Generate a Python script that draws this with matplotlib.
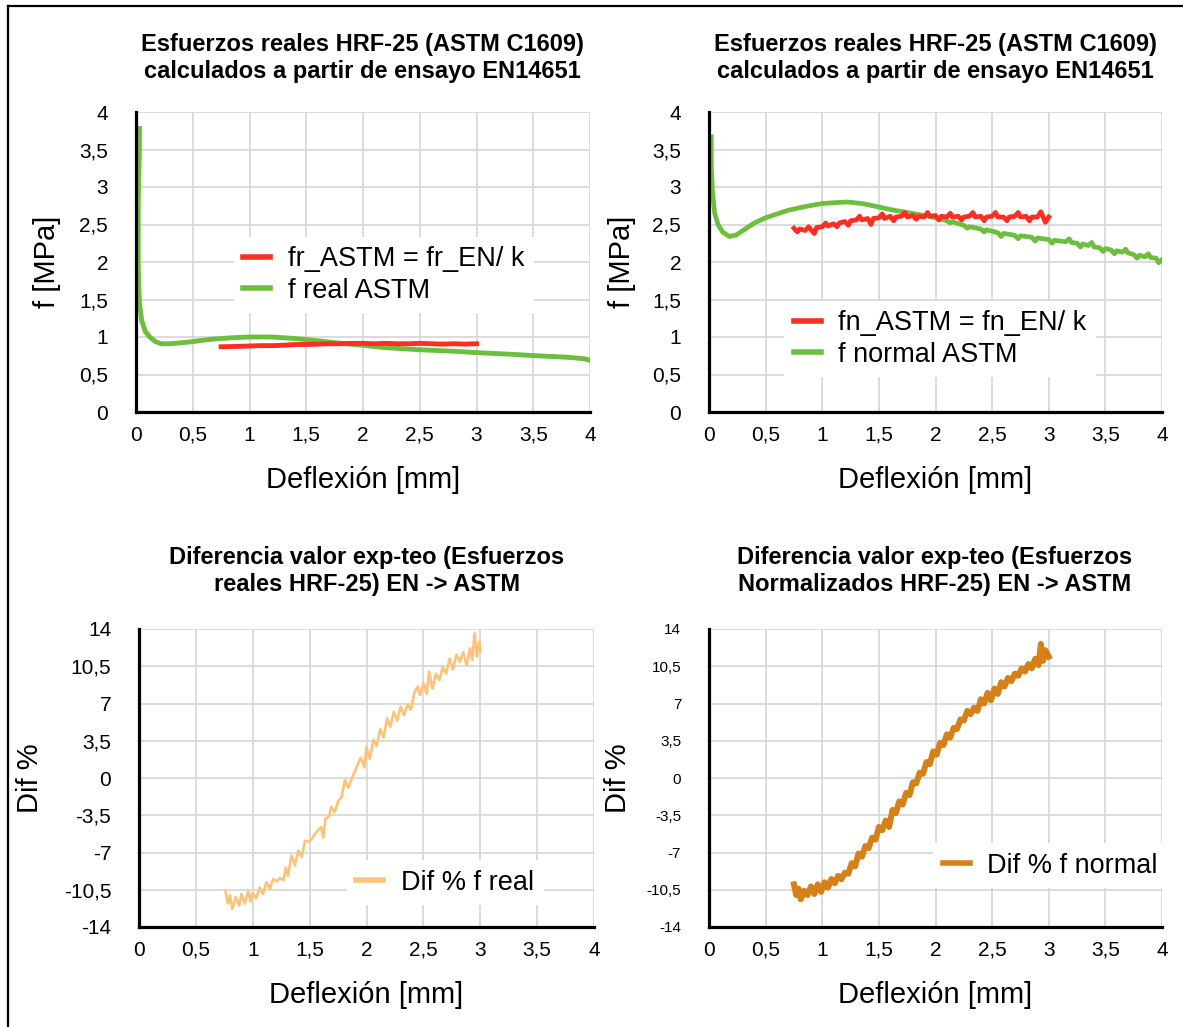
import matplotlib
matplotlib.use('Agg')
import matplotlib.pyplot as plt
from matplotlib.lines import Line2D

plt.rcParams['font.family'] = ['Liberation Sans', 'DejaVu Sans']

# ── Datos ───────────────────────────────────────────────────────────────────
# Panel 1: esfuerzos reales
real_astm_x = [0.03, 0.03, 0.02, 0.02, 0.03, 0.05, 0.08, 0.12, 0.17, 0.22, 0.3, 0.45,
               0.66, 0.85, 1.0, 1.2, 1.4, 1.6, 1.84, 2.0, 2.18, 2.5, 2.8, 3.02, 3.3,
               3.53, 3.8, 3.95, 4.0]
real_astm_y = [3.78, 3.5, 2.82, 1.93, 1.45, 1.22, 1.08, 1.0, 0.94, 0.91, 0.91, 0.93,
               0.97, 0.99, 1.0, 1.0, 0.98, 0.95, 0.91, 0.89, 0.86, 0.83, 0.81, 0.79, 0.77,
               0.75, 0.73, 0.71, 0.69]
fr_astm_x = [0.75, 0.9, 1.0, 1.1, 1.2, 1.3, 1.4, 1.5, 1.6, 1.7, 1.8, 1.9, 2.0, 2.1,
             2.2, 2.3, 2.4, 2.5, 2.6, 2.7, 2.8, 2.9, 3.0]
fr_astm_y = [0.87, 0.875, 0.88, 0.885, 0.885, 0.89, 0.9, 0.9, 0.905, 0.91, 0.91, 0.915,
             0.915, 0.91, 0.915, 0.91, 0.91, 0.915, 0.91, 0.905, 0.91, 0.905, 0.91]

# Panel 2: esfuerzos normalizados
norm_astm_x = [0.02, 0.02, 0.03, 0.05, 0.08, 0.12, 0.18, 0.24, 0.3, 0.4, 0.5, 0.6, 0.7,
               0.85, 1.0, 1.1, 1.22, 1.35, 1.48, 1.6, 1.75, 1.9, 2.0,
               2.05, 2.10, 2.13, 2.15, 2.20, 2.25, 2.28, 2.30, 2.35, 2.40, 2.43, 2.45,
               2.50, 2.55, 2.58, 2.60, 2.65, 2.70, 2.73, 2.75, 2.80, 2.85, 2.88, 2.90,
               2.95, 3.00, 3.03, 3.05, 3.10, 3.15, 3.18, 3.20, 3.25, 3.28, 3.30, 3.35,
               3.38, 3.40, 3.45, 3.48, 3.50, 3.55, 3.58, 3.60, 3.65, 3.68, 3.70, 3.75,
               3.78, 3.80, 3.85, 3.88, 3.90, 3.95, 3.97, 4.00]
norm_astm_y = [3.67, 3.3, 2.95, 2.65, 2.5, 2.4, 2.34, 2.36, 2.42, 2.52, 2.59, 2.64, 2.69,
               2.74, 2.78, 2.79, 2.8, 2.78, 2.74, 2.7, 2.66, 2.62, 2.59,
               2.575, 2.55, 2.52, 2.54, 2.51, 2.49, 2.45, 2.47, 2.455, 2.44, 2.40, 2.43,
               2.41, 2.39, 2.34, 2.38, 2.37, 2.355, 2.31, 2.35, 2.34, 2.33, 2.28, 2.32,
               2.31, 2.30, 2.25, 2.29, 2.28, 2.27, 2.31, 2.26, 2.25, 2.20, 2.24, 2.22,
               2.26, 2.20, 2.19, 2.14, 2.18, 2.16, 2.11, 2.15, 2.13, 2.17, 2.12, 2.10,
               2.05, 2.09, 2.07, 2.11, 2.06, 2.05, 1.99, 2.03]
fn_astm_x = [0.75, 0.78, 0.80, 0.85, 0.88, 0.90, 0.93, 0.95, 1.00, 1.03, 1.05, 1.10,
             1.13, 1.15, 1.20, 1.23, 1.25, 1.30, 1.33, 1.35, 1.40, 1.43, 1.45, 1.50,
             1.53, 1.55, 1.60, 1.63, 1.65, 1.70, 1.73, 1.75, 1.80, 1.83, 1.85, 1.90,
             1.93, 1.95, 2.00, 2.03, 2.05, 2.10, 2.13, 2.15, 2.20, 2.23, 2.25, 2.30,
             2.33, 2.35, 2.40, 2.43, 2.45, 2.50, 2.53, 2.55, 2.60, 2.63, 2.65, 2.70,
             2.73, 2.75, 2.80, 2.83, 2.85, 2.90, 2.93, 2.95, 2.97, 3.00]
fn_astm_y = [2.45, 2.40, 2.44, 2.42, 2.47, 2.43, 2.38, 2.46, 2.47, 2.52, 2.48, 2.51,
             2.47, 2.52, 2.54, 2.49, 2.55, 2.56, 2.61, 2.56, 2.58, 2.50, 2.58, 2.59,
             2.64, 2.58, 2.61, 2.55, 2.60, 2.61, 2.66, 2.60, 2.62, 2.57, 2.61, 2.60,
             2.66, 2.61, 2.62, 2.56, 2.61, 2.60, 2.65, 2.60, 2.61, 2.56, 2.60, 2.61,
             2.66, 2.60, 2.61, 2.55, 2.60, 2.61, 2.66, 2.60, 2.60, 2.55, 2.60, 2.61,
             2.66, 2.60, 2.61, 2.55, 2.60, 2.60, 2.67, 2.60, 2.53, 2.60]

# Panel 3: diferencia % (reales)
dif_real_x = [0.76, 0.78, 0.80, 0.82, 0.85, 0.88, 0.90, 0.93, 0.96, 0.98, 1.00, 1.03,
              1.06, 1.09, 1.12, 1.15, 1.18, 1.21, 1.24, 1.27, 1.29, 1.31, 1.34, 1.37,
              1.40, 1.43, 1.46, 1.50, 1.55, 1.60, 1.62, 1.64, 1.67, 1.69, 1.72, 1.75,
              1.78, 1.81, 1.84, 1.88, 1.92, 1.95, 1.98, 2.00, 2.03, 2.06, 2.09, 2.12,
              2.15, 2.18, 2.21, 2.24, 2.27, 2.30, 2.33, 2.36, 2.39, 2.42, 2.45, 2.47,
              2.50, 2.53, 2.55, 2.58, 2.61, 2.64, 2.67, 2.70, 2.73, 2.76, 2.79, 2.82,
              2.85, 2.88, 2.91, 2.93, 2.95, 2.97, 2.99, 3.00]
dif_real_y = [-10.6, -11.8, -11.0, -12.3, -11.2, -12.0, -10.9, -11.8, -10.6, -11.6, -10.8, -11.3,
              -10.3, -10.9, -9.8, -10.4, -9.5, -9.7, -9.4, -9.6, -8.4, -9.2, -7.3, -8.2,
              -6.8, -7.4, -5.9, -6.0, -5.2, -4.6, -5.6, -3.8, -3.6, -2.7, -3.2, -2.2,
              -1.8, -0.2, -0.9, 0.2, 1.2, 1.9, 1.0, 2.9, 1.8, 3.6, 3.0, 4.6,
              3.8, 5.6, 4.8, 6.2, 5.4, 6.7, 5.9, 6.9, 6.4, 8.0, 8.6, 7.8,
              8.9, 7.9, 10.0, 8.4, 9.8, 9.2, 10.4, 9.8, 11.2, 10.2, 11.6, 10.9,
              11.8, 10.6, 12.2, 11.1, 13.6, 11.4, 12.8, 11.9]

# Panel 4: diferencia % (normalizados)
dif_norm_x = [0.75, 0.77, 0.79, 0.81, 0.84, 0.87, 0.90, 0.93, 0.96, 0.99, 1.02, 1.05,
              1.08, 1.11, 1.14, 1.17, 1.20, 1.23, 1.26, 1.29, 1.32, 1.35, 1.38, 1.41,
              1.44, 1.47, 1.50, 1.53, 1.56, 1.59, 1.62, 1.65, 1.68, 1.71, 1.74, 1.77,
              1.80, 1.83, 1.86, 1.89, 1.92, 1.95, 1.98, 2.01, 2.04, 2.07, 2.10, 2.13,
              2.16, 2.19, 2.22, 2.25, 2.28, 2.31, 2.34, 2.37, 2.40, 2.43, 2.46, 2.49,
              2.52, 2.55, 2.58, 2.61, 2.64, 2.67, 2.70, 2.73, 2.76, 2.79, 2.82, 2.85,
              2.88, 2.91, 2.93, 2.95, 2.97, 3.00]
dif_norm_y = [-10.0, -11.0, -10.4, -11.4, -10.6, -11.0, -10.2, -10.9, -10.0, -10.7, -9.8, -10.3,
              -9.5, -9.9, -9.2, -9.5, -8.9, -9.0, -8.0, -8.3, -7.1, -7.4, -6.4, -6.6,
              -5.6, -5.8, -4.6, -4.9, -4.0, -4.6, -3.0, -3.3, -2.2, -2.5, -1.4, -1.6,
              -0.4, -0.5, 0.5, 0.4, 1.5, 1.3, 2.5, 2.2, 3.3, 3.1, 4.1, 3.8,
              4.7, 4.6, 5.5, 5.4, 6.3, 6.0, 6.6, 6.3, 7.4, 7.0, 8.0, 7.3,
              8.4, 7.9, 9.0, 8.6, 9.4, 9.1, 9.8, 9.6, 10.3, 10.0, 10.7, 10.3,
              11.2, 10.6, 12.6, 11.0, 12.0, 11.4]

x_ticks = [0, 0.5, 1, 1.5, 2, 2.5, 3, 3.5, 4]
x_labels = ['0', '0,5', '1', '1,5', '2', '2,5', '3', '3,5', '4']
f_ticks = [0, 0.5, 1, 1.5, 2, 2.5, 3, 3.5, 4]
f_labels = ['0', '0,5', '1', '1,5', '2', '2,5', '3', '3,5', '4']
dif_ticks = [-14, -10.5, -7, -3.5, 0, 3.5, 7, 10.5, 14]
dif_labels = ['-14', '-10,5', '-7', '-3,5', '0', '3,5', '7', '10,5', '14']

titles = ["Esfuerzos reales HRF-25 (ASTM C1609)\ncalculados a partir de ensayo EN14651",
          "Esfuerzos reales HRF-25 (ASTM C1609)\ncalculados a partir de ensayo EN14651",
          "Diferencia valor exp-teo (Esfuerzos\nreales HRF-25) EN -> ASTM",
          "Diferencia valor exp-teo (Esfuerzos\nNormalizados HRF-25) EN -> ASTM"]

RED = '#FF2D22'
GREEN = '#6DBE3F'
LIGHT_ORANGE = '#FFC27A'
DARK_ORANGE = '#D58018'

# ── Figura ──────────────────────────────────────────────────────────────────
W, H = 1183, 1027
fig = plt.figure(figsize=(W / 100, H / 100), dpi=100)


def axes_px(left, top, right, bottom):
    return fig.add_axes([left / W, 1 - bottom / H, (right - left) / W, (bottom - top) / H])


def style(ax, yticks, ylabels, ylim, ytick_size):
    ax.set_xlim(0, 4)
    ax.set_ylim(*ylim)
    ax.set_xticks(x_ticks)
    ax.set_xticklabels(x_labels)
    ax.set_yticks(yticks)
    ax.set_yticklabels(ylabels)
    ax.tick_params(axis='both', length=0)
    ax.tick_params(axis='x', labelsize=15, pad=10)
    ax.tick_params(axis='y', labelsize=ytick_size, pad=20)
    ax.grid(True, color='#d6d6d6', linewidth=1.2)
    ax.set_axisbelow(True)
    for s in ('top', 'right'):
        ax.spines[s].set_visible(False)
    for s in ('left', 'bottom'):
        ax.spines[s].set_linewidth(2.3)
        ax.spines[s].set_color('black')
        ax.spines[s].set_zorder(4)
    ax.set_xlabel('Deflexión [mm]', fontsize=21)
    ax.xaxis.set_label_coords(0.5, -0.18)


def add_legend(ax, cx, cy):
    leg = ax.legend(loc='center', bbox_to_anchor=(cx, cy), fontsize=19.5,
                    handlelength=1.0, handletextpad=0.65, labelspacing=0.2,
                    borderpad=0.35, frameon=True, fancybox=False,
                    facecolor='white', edgecolor='none', framealpha=1.0)
    for h in leg.get_lines():
        h.set_linewidth(4)
    leg.set_zorder(5)


# Panel superior izquierdo
ax1 = axes_px(136, 112, 590, 412)
ax1.plot(fr_astm_x, fr_astm_y, color=RED, linewidth=3.5, label='fr_ASTM = fr_EN/ k', zorder=3)
ax1.plot(real_astm_x, real_astm_y, color=GREEN, linewidth=3.5, label='f real ASTM', zorder=2)
style(ax1, f_ticks, f_labels, (0, 4), 15)
ax1.set_ylabel('f [MPa]', fontsize=21)
ax1.yaxis.set_label_coords(-0.165, 0.5)
add_legend(ax1, 0.546, 0.457)

# Panel superior derecho
ax2 = axes_px(709, 112, 1162, 412)
ax2.plot(fn_astm_x, fn_astm_y, color=RED, linewidth=3.4, label='fn_ASTM = fn_EN/ k', zorder=3)
ax2.plot(norm_astm_x, norm_astm_y, color=GREEN, linewidth=3.4, label='f normal ASTM', zorder=2)
style(ax2, f_ticks, f_labels, (0, 4), 15)
ax2.set_ylabel('f [MPa]', fontsize=21)
ax2.yaxis.set_label_coords(-0.161, 0.5)
add_legend(ax2, 0.51, 0.243)

# Panel inferior izquierdo
ax3 = axes_px(139, 629, 594, 927)
ax3.plot(dif_real_x, dif_real_y, color=LIGHT_ORANGE, linewidth=1.9, label='Dif % f real')
style(ax3, dif_ticks, dif_labels, (-14, 14), 15)
ax3.set_ylabel('Dif %', fontsize=21)
ax3.yaxis.set_label_coords(-0.209, 0.5)
add_legend(ax3, 0.673, 0.148)

# Panel inferior derecho
ax4 = axes_px(709, 629, 1162, 927)
ax4.plot(dif_norm_x, dif_norm_y, color=DARK_ORANGE, linewidth=4.3, label='Dif % f normal')
style(ax4, dif_ticks, dif_labels, (-14, 14), 11)
ax4.set_ylabel('Dif %', fontsize=21)
ax4.yaxis.set_label_coords(-0.17, 0.5)
add_legend(ax4, 0.753, 0.205)

# Títulos
for (cx, cy), t in zip([(362, 58), (935, 58), (367, 571), (935, 571)], titles):
    fig.text(cx / W, 1 - cy / H, t, ha='center', va='center', fontsize=17,
             fontweight='bold', linespacing=1.25)

# Marco exterior
fig.add_artist(Line2D([8 / W, 8 / W], [0, 1 - 6 / H], color='black', linewidth=1.6,
                      transform=fig.transFigure))
fig.add_artist(Line2D([8 / W, 1], [1 - 6 / H, 1 - 6 / H], color='black', linewidth=1.6,
                      transform=fig.transFigure))

fig.savefig('out.png', dpi=100, facecolor='white')
